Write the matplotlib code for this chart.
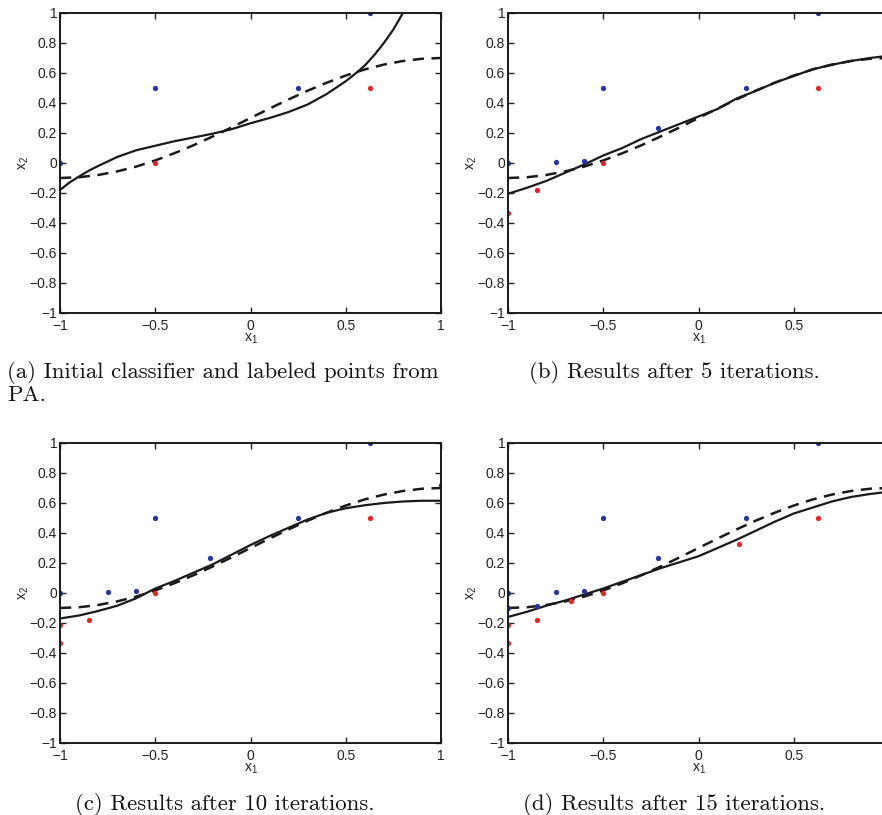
import numpy as np
import matplotlib
matplotlib.use("Agg")
import matplotlib.pyplot as plt

plt.rcParams['font.family'] = ['Liberation Sans', 'DejaVu Sans']
plt.rcParams['mathtext.fontset'] = 'custom'
plt.rcParams['mathtext.rm'] = 'Liberation Sans'
plt.rcParams['mathtext.it'] = 'Liberation Sans'

# grid of x1 values the curves were read at
curve_x = [-1.0, -0.9, -0.8, -0.7, -0.6, -0.5, -0.4, -0.3, -0.2, -0.1, 0.0,
           0.1, 0.2, 0.3, 0.4, 0.5, 0.6, 0.7, 0.8, 0.9, 1.0]

# dashed boundary (same in every panel)
dashed_y = [-0.100, -0.095, -0.080, -0.056, -0.024, 0.017, 0.065, 0.118, 0.176, 0.237, 0.300,
            0.363, 0.424, 0.482, 0.535, 0.583, 0.624, 0.656, 0.680, 0.695, 0.700]

# solid classifier, one per panel
solid_a_x = [-1.0, -0.95, -0.9, -0.85, -0.8, -0.7, -0.6, -0.5, -0.4, -0.3, -0.2, -0.1, 0.0,
             0.1, 0.2, 0.3, 0.4, 0.5, 0.55, 0.6, 0.65, 0.7, 0.75, 0.8, 0.85]
solid_a_y = [-0.18, -0.13, -0.09, -0.052, -0.02, 0.04, 0.085, 0.115, 0.145, 0.17, 0.195, 0.225, 0.265,
             0.30, 0.34, 0.39, 0.46, 0.545, 0.595, 0.65, 0.72, 0.80, 0.89, 1.0, 1.12]
solid_b_y = [-0.205, -0.165, -0.12, -0.065, -0.01, 0.05, 0.10, 0.16, 0.21, 0.26, 0.31,
             0.36, 0.43, 0.48, 0.535, 0.58, 0.625, 0.655, 0.68, 0.70, 0.715]
solid_c_y = [-0.17, -0.15, -0.12, -0.085, -0.035, 0.03, 0.08, 0.135, 0.19, 0.255, 0.32,
             0.38, 0.435, 0.49, 0.535, 0.565, 0.585, 0.60, 0.61, 0.615, 0.615]
solid_d_y = [-0.16, -0.125, -0.085, -0.05, -0.01, 0.03, 0.075, 0.12, 0.165, 0.205, 0.245,
             0.30, 0.355, 0.415, 0.475, 0.53, 0.57, 0.61, 0.64, 0.66, 0.675]

# labeled points
blue_a_x = [-1.0, -0.5, 0.25, 0.625]
blue_a_y = [0.0, 0.5, 0.5, 1.0]
red_a_x = [-0.5, 0.625]
red_a_y = [0.0, 0.5]

blue_b_x = [-1.0, -0.75, -0.6, -0.5, -0.21, 0.25, 0.625]
blue_b_y = [0.0, 0.005, 0.015, 0.5, 0.233, 0.5, 1.0]
red_b_x = [-1.0, -0.85, -0.5, 0.625]
red_b_y = [-0.33, -0.18, 0.0, 0.5]

blue_c_x = [-1.0, -0.75, -0.6, -0.5, -0.21, 0.25, 0.625, 1.0]
blue_c_y = [0.0, 0.005, 0.015, 0.5, 0.233, 0.5, 1.0, 0.72]
red_c_x = [-1.0, -1.0, -0.85, -0.5, 0.625]
red_c_y = [-0.21, -0.33, -0.18, 0.0, 0.5]

blue_d_x = [-1.0, -1.0, -0.85, -0.75, -0.6, -0.5, -0.21, 0.25, 0.625, 1.0]
blue_d_y = [0.0, -0.1, -0.085, 0.005, 0.015, 0.5, 0.233, 0.5, 1.0, 0.72]
red_d_x = [-1.0, -1.0, -0.85, -0.67, -0.5, 0.21, 0.625]
red_d_y = [-0.21, -0.33, -0.18, -0.05, 0.0, 0.33, 0.5]

xticks = [-1, -0.5, 0, 0.5, 1]
xticklabels = ['\u22121', '\u22120.5', '0', '0.5', '1']
yticks = [-1, -0.8, -0.6, -0.4, -0.2, 0, 0.2, 0.4, 0.6, 0.8, 1]
yticklabels = ['\u22121', '\u22120.8', '\u22120.6', '\u22120.4', '\u22120.2', '0',
               '0.2', '0.4', '0.6', '0.8', '1']

captions = ['(a) Initial classifier and labeled points from',
            '(b) Results after 5 iterations.',
            '(c) Results after 10 iterations.',
            '(d) Results after 15 iterations.']

W, H = 882, 815
fig = plt.figure(figsize=(W / 100, H / 100), dpi=100)

panels = [
    ((60, 13), solid_a_x, solid_a_y, blue_a_x, blue_a_y, red_a_x, red_a_y),
    ((508, 13), curve_x, solid_b_y, blue_b_x, blue_b_y, red_b_x, red_b_y),
    ((60, 443), curve_x, solid_c_y, blue_c_x, blue_c_y, red_c_x, red_c_y),
    ((508, 443), curve_x, solid_d_y, blue_d_x, blue_d_y, red_d_x, red_d_y),
]

BLUE = '#27359c'
RED = '#e3262c'

for (px, py), sx, sy, bx, by, rx, ry in panels:
    ax = fig.add_axes([px / W, 1 - (py + 300) / H, 381 / W, 300 / H])
    ax.plot(curve_x, dashed_y, color='#1a1a1a', lw=1.8, dashes=(4.5, 3))
    ax.plot(sx, sy, color='#1a1a1a', lw=1.6)
    ax.plot(bx, by, 'o', color=BLUE, ms=3.8, mew=0)
    ax.plot(rx, ry, 'o', color=RED, ms=3.8, mew=0)
    ax.set_xlim(-1, 1)
    ax.set_ylim(-1, 1)
    ax.set_xticks(xticks)
    # the right-hand panels run past the page edge, so their last label is not shown
    labels = xticklabels if px < 300 else xticklabels[:-1] + ['']
    ax.set_xticklabels(labels)
    ax.set_yticks(yticks)
    ax.set_yticklabels(yticklabels)
    ax.tick_params(direction='in', top=True, right=True, length=4, width=1,
                   labelsize=10, colors='#222222', pad=4.5)
    ax.tick_params(axis='y', pad=2)
    for s in ax.spines.values():
        s.set_linewidth(1.4)
        s.set_color('#1a1a1a')
    ax.set_xlabel(r'$\mathregular{x_1}$', fontsize=10, color='#222222')
    ax.set_ylabel(r'$\mathregular{x_2}$', fontsize=10, color='#222222')
    ax.xaxis.set_label_coords(0.5, -0.062)
    ax.yaxis.set_label_coords(-0.075, 0.5)

cap_kw = dict(family='cmr10', fontsize=16.4, color='#111111', va='center')
fig.text(7 / W, 1 - 373 / H, captions[0], ha='left', **cap_kw)
fig.text(7 / W, 1 - 395 / H, 'PA.', ha='left', **cap_kw)
fig.text(674 / W, 1 - 373 / H, captions[1], ha='center', **cap_kw)
fig.text(225 / W, 1 - 805 / H, captions[2], ha='center', **cap_kw)
fig.text(674 / W, 1 - 805 / H, captions[3], ha='center', **cap_kw)

fig.savefig('out.png', dpi=100)
